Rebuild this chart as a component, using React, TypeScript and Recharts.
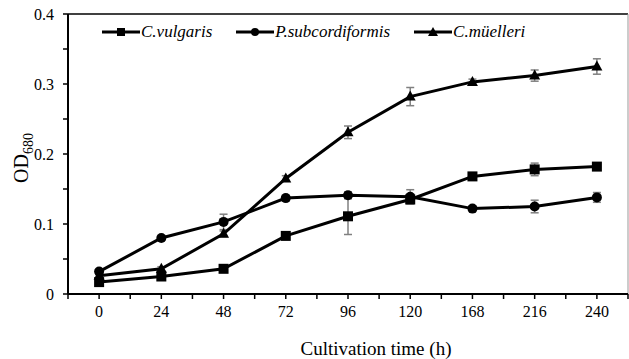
import React from 'react';
import { LineChart, Line, XAxis, YAxis, ErrorBar, Legend, ReferenceLine } from 'recharts';

const timeLabels = ['0', '24', '48', '72', '96', '120', '168', '216', '240'];

const vulgaris = [0.017, 0.025, 0.036, 0.083, 0.111, 0.135, 0.168, 0.178, 0.182];
const vulgarisErr = [0.002, 0.003, 0.003, 0.004, 0.026, 0.006, 0.004, 0.009, 0.004];

const subcordiformis = [0.032, 0.08, 0.103, 0.137, 0.141, 0.139, 0.122, 0.125, 0.138];
const subcordiformisErr = [0.002, 0.003, 0.011, 0.004, 0.005, 0.01, 0.004, 0.009, 0.007];

const muelleri = [0.026, 0.036, 0.086, 0.165, 0.231, 0.282, 0.303, 0.312, 0.325];
const muelleriErr = [0.002, 0.003, 0.004, 0.004, 0.009, 0.013, 0.004, 0.008, 0.011];

const yTicks = [0, 0.05, 0.1, 0.15, 0.2, 0.25, 0.3, 0.35, 0.4];
const xTicks = [-0.5, 0, 0.5, 1, 1.5, 2, 2.5, 3, 3.5, 4, 4.5, 5, 5.5, 6, 6.5, 7, 7.5, 8, 8.5];

const data = timeLabels.map((t, i) => ({
  idx: i,
  time: t,
  cv: vulgaris[i],
  cvErr: vulgarisErr[i],
  ps: subcordiformis[i],
  psErr: subcordiformisErr[i],
  cm: muelleri[i],
  cmErr: muelleriErr[i],
}));

const FONT = 'Liberation Serif, Tinos, Times New Roman, DejaVu Serif, serif';

const SquareDot = (p: any) => (
  <rect key={p.key} x={p.cx - 5} y={p.cy - 5} width={10} height={10} fill="#000" />
);
const CircleDot = (p: any) => <circle key={p.key} cx={p.cx} cy={p.cy} r={5} fill="#000" />;
const TriDot = (p: any) => (
  <path key={p.key} d={`M${p.cx},${p.cy - 6}L${p.cx + 5.5},${p.cy + 4}L${p.cx - 5.5},${p.cy + 4}Z`} fill="#000" />
);

const legendItems = [
  { name: 'C.vulgaris', shape: 'square' },
  { name: 'P.subcordiformis', shape: 'circle' },
  { name: 'C.müelleri', shape: 'triangle' },
];

function LegendIcon({ shape }: { shape: string }) {
  return (
    <svg width={38} height={12} style={{ display: 'block' }}>
      <line x1={0} y1={6} x2={38} y2={6} stroke="#000" strokeWidth={3} />
      {shape === 'square' && <rect x={15} y={2} width={8} height={8} fill="#000" />}
      {shape === 'circle' && <circle cx={19} cy={6} r={4} fill="#000" />}
      {shape === 'triangle' && <path d="M19,1L24,10L14,10Z" fill="#000" />}
    </svg>
  );
}

function renderLegend() {
  return (
    <div style={{ display: 'flex', alignItems: 'center', fontFamily: FONT, fontStyle: 'italic', fontSize: 17, color: '#000', lineHeight: '20px' }}>
      {legendItems.map((it, i) => (
        <div key={it.name} style={{ display: 'flex', alignItems: 'center', marginRight: i < 2 ? 24 : 0 }}>
          <LegendIcon shape={it.shape} />
          <span style={{ marginLeft: 1 }}>{it.name}</span>
        </div>
      ))}
    </div>
  );
}

const yFormat = (v: number) => (Math.round(v * 100) % 10 === 0 ? String(v) : '');
const xFormat = (v: number) => (Number.isInteger(v) ? timeLabels[v] : '');

export default function App() {
  return (
    <div style={{ position: 'absolute', left: 0, top: 0, width: 629, height: 359, background: '#fff' }}>
      <LineChart width={629} height={359} data={data} margin={{ top: 14, right: 1, bottom: 0, left: 0 }}>
        <ReferenceLine y={0.4} stroke="#000" strokeWidth={1.5} />
        <ReferenceLine x={8.5} stroke="#999" strokeWidth={1} />
        <XAxis
          dataKey="idx"
          type="number"
          domain={[-0.5, 8.5]}
          ticks={xTicks}
          tickFormatter={xFormat}
          interval={0}
          height={65}
          axisLine={{ stroke: '#000', strokeWidth: 2 }}
          tickLine={{ stroke: '#000', strokeWidth: 1.5 }}
          tickSize={5}
          tickMargin={7}
          tick={{ fill: '#000', fontSize: 16, fontFamily: FONT }}
          label={{
            content: () => (
              <text x={376} y={355} textAnchor="middle" fill="#000" fontSize={19} fontFamily={FONT}>
                Cultivation time (h)
              </text>
            ),
          }}
        />
        <YAxis
          type="number"
          domain={[0, 0.4]}
          ticks={yTicks}
          tickFormatter={yFormat}
          interval={0}
          width={68}
          axisLine={{ stroke: '#000', strokeWidth: 2 }}
          tickLine={{ stroke: '#000', strokeWidth: 1.5 }}
          tickSize={5}
          tickMargin={9}
          tick={{ fill: '#000', fontSize: 16, fontFamily: FONT }}
          label={{
            content: () => (
              <text x={28} y={183} transform="rotate(-90, 28, 183)" fill="#000" fontFamily={FONT} fontSize={20}>
                OD
                <tspan fontSize={14} dy={5}>680</tspan>
              </text>
            ),
          }}
        />
        <Legend verticalAlign="middle" content={renderLegend} wrapperStyle={{ top: 22, left: 102, width: 520 }} />
        <Line dataKey="cv" stroke="#000" strokeWidth={3} dot={SquareDot} isAnimationActive={false}>
          <ErrorBar dataKey="cvErr" direction="y" width={4} stroke="#808080" strokeWidth={1.5} />
        </Line>
        <Line dataKey="ps" stroke="#000" strokeWidth={3} dot={CircleDot} isAnimationActive={false}>
          <ErrorBar dataKey="psErr" direction="y" width={4} stroke="#808080" strokeWidth={1.5} />
        </Line>
        <Line dataKey="cm" stroke="#000" strokeWidth={3} dot={TriDot} isAnimationActive={false}>
          <ErrorBar dataKey="cmErr" direction="y" width={4} stroke="#808080" strokeWidth={1.5} />
        </Line>
      </LineChart>
    </div>
  );
}
